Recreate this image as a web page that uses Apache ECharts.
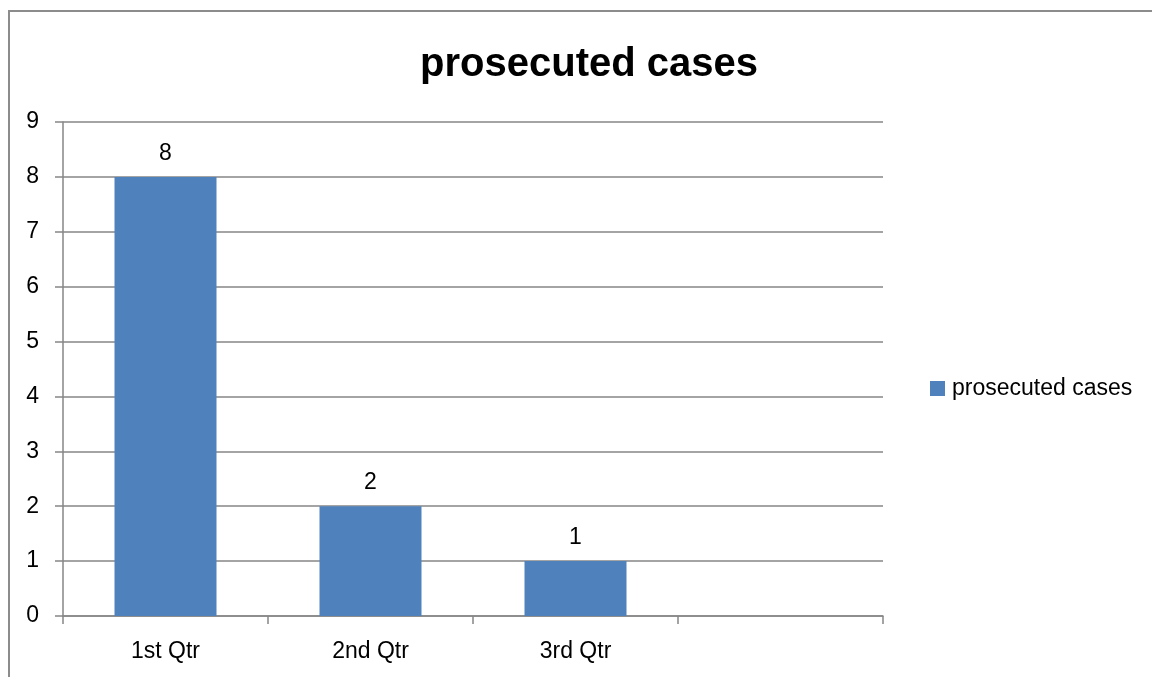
<!DOCTYPE html>
<html lang="en">
<head>
    <meta charset="UTF-8">
    <script src="https://cdn.jsdelivr.net/npm/echarts@6/dist/echarts.min.js"></script>
    <title>prosecuted cases</title>
    <style>
        html, body { margin: 0; padding: 0; background: #fff; }
        #frame { position: absolute; left: 8px; top: 10px; right: 0; bottom: 0;
                 border-left: 2px solid #8c8c8c; border-top: 2px solid #8c8c8c; }
        #main { position: absolute; left: 0; top: 0; width: 1152px; height: 677px; }
    </style>
</head>
<body>
<div id="frame"></div>
<div id="main"></div>
<script>
    // data
    var quarters = ['1st Qtr', '2nd Qtr', '3rd Qtr', ''];
    var prosecuted = [8, 2, 1, null];
    var seriesName = 'prosecuted cases';

    var chartDom = document.getElementById('main');
    var myChart = echarts.init(chartDom);

    var font = 'Liberation Sans';
    var gridColor = '#868686';

    var option = {
        animation: false,
        title: {
            text: seriesName,
            left: 584,
            top: 40,
            textAlign: 'center',
            textStyle: { fontFamily: font, fontSize: 40, fontWeight: 'bold', color: '#000' }
        },
        legend: {
            data: [seriesName],
            left: 925,
            top: 372,
            icon: 'rect',
            itemWidth: 15,
            itemHeight: 15,
            itemGap: 7,
            textStyle: { fontFamily: font, fontSize: 23, color: '#000', padding: [0, 0, 0, 2] }
        },
        grid: { left: 63, right: 269, top: 122, bottom: 61 },
        xAxis: {
            type: 'category',
            data: quarters,
            axisLine: { show: true, lineStyle: { color: gridColor, width: 1.5 } },
            axisTick: { show: true, interval: 0, length: 8, lineStyle: { color: gridColor, width: 1.5 } },
            axisLabel: { margin: 24, interval: 0, fontFamily: font, fontSize: 23, color: '#000' }
        },
        yAxis: {
            type: 'value',
            min: 0,
            max: 9,
            interval: 1,
            axisLine: { show: true, lineStyle: { color: gridColor, width: 1.5 } },
            axisTick: { show: true, length: 8, lineStyle: { color: gridColor, width: 1.5 } },
            splitLine: { lineStyle: { color: gridColor, width: 1.5 } },
            axisLabel: { margin: 24, fontFamily: font, fontSize: 23, color: '#000' }
        },
        series: [
            {
                name: seriesName,
                type: 'bar',
                data: prosecuted,
                barWidth: 102,
                itemStyle: { color: '#4F81BD' },
                label: {
                    show: true,
                    position: 'top',
                    distance: 12,
                    fontFamily: font,
                    fontSize: 23,
                    color: '#000'
                }
            }
        ]
    };
    option && myChart.setOption(option);
</script>
</body>
</html>
